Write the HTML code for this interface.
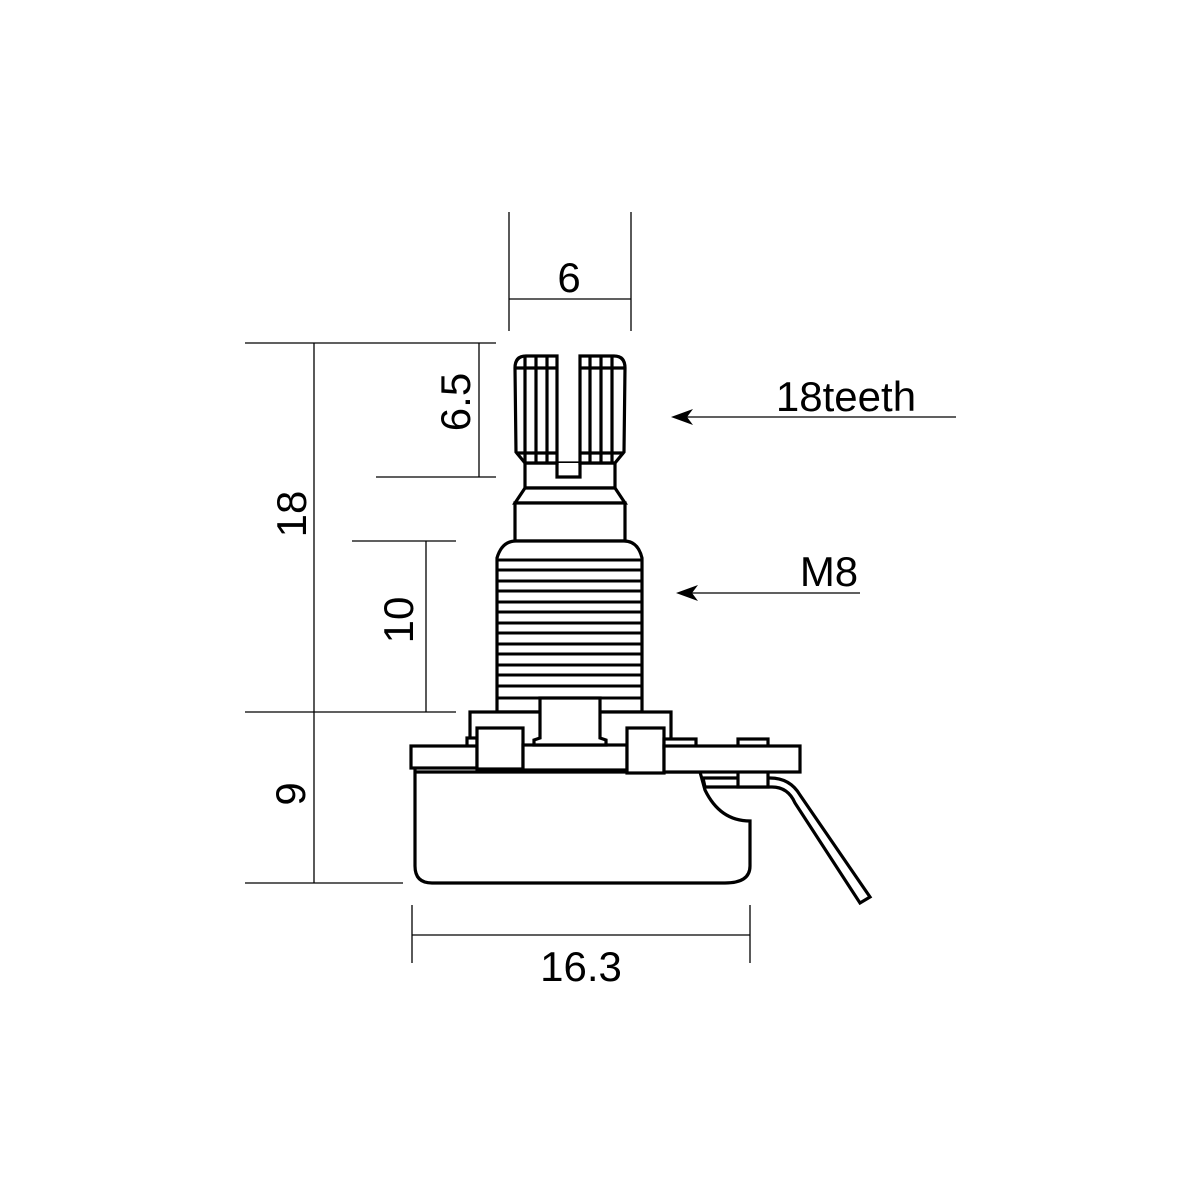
<!DOCTYPE html>
<html><head><meta charset="utf-8"><style>
html,body{margin:0;padding:0;background:#fff;}
svg{display:block}
text{font-family:"Liberation Sans","Noto Sans CJK JP",sans-serif;fill:#000;}
</style></head><body>
<svg width="1200" height="1200" viewBox="0 0 1200 1200" xmlns="http://www.w3.org/2000/svg">
<rect width="1200" height="1200" fill="#fff"/>
<g stroke="#000" stroke-width="1.3" fill="none">
  <line x1="509" y1="212" x2="509" y2="331"/>
  <line x1="631" y1="212" x2="631" y2="331"/>
  <line x1="509" y1="299" x2="631" y2="299"/>
  <line x1="245" y1="343" x2="496" y2="343"/>
  <line x1="314" y1="343" x2="314" y2="883"/>
  <line x1="479" y1="343" x2="479" y2="477"/>
  <line x1="376" y1="477" x2="496" y2="477"/>
  <line x1="352" y1="541" x2="456" y2="541"/>
  <line x1="426" y1="541" x2="426" y2="712"/>
  <line x1="245" y1="712" x2="456" y2="712"/>
  <line x1="245" y1="883" x2="403" y2="883"/>
  <line x1="412" y1="905" x2="412" y2="963"/>
  <line x1="750" y1="905" x2="750" y2="963"/>
  <line x1="412" y1="935" x2="750" y2="935"/>
  <line x1="682" y1="417" x2="956" y2="417"/>
  <line x1="686" y1="593" x2="860" y2="593"/>
</g>
<polygon points="671,417 693,409 687,417 693,425" fill="#000"/>
<polygon points="676,593 698,585 692,593 698,601" fill="#000"/>
<g font-size="42">
  <text x="569" y="292" text-anchor="middle">6</text>
  <text x="846" y="411" text-anchor="middle">18teeth</text>
  <text x="829" y="586" text-anchor="middle">M8</text>
  <text x="581" y="981" text-anchor="middle">16.3</text>
  <text transform="translate(470,402) rotate(-90)" text-anchor="middle">6.5</text>
  <text transform="translate(306,514) rotate(-90)" text-anchor="middle">18</text>
  <text transform="translate(413,620) rotate(-90)" text-anchor="middle">10</text>
  <text transform="translate(305,794) rotate(-90)" text-anchor="middle">9</text>
</g>
<g stroke="#000" stroke-width="3.2" fill="#fff" stroke-linejoin="miter">
  <path d="M525,463 L525,488 L615,488 L615,463 Z"/>
  <path d="M557,463 L557,477 L580,477 L580,463"/>
  <path d="M525,463 L516,452 L515,368 Q515,356 526,356 L557,356 L557,463 Z"/>
  <path d="M615,463 L624,452 L625,368 Q625,356 614,356 L580,356 L580,463 Z"/>
  <line x1="516" y1="368" x2="557" y2="368"/>
  <line x1="516" y1="453" x2="557" y2="453"/>
  <line x1="580" y1="368" x2="624" y2="368"/>
  <line x1="580" y1="453" x2="624" y2="453"/>
  <line x1="525" y1="356" x2="525" y2="463"/>
  <line x1="536" y1="356" x2="536" y2="463"/>
  <line x1="547" y1="356" x2="547" y2="463"/>
  <line x1="590" y1="356" x2="590" y2="463"/>
  <line x1="601" y1="356" x2="601" y2="463"/>
  <line x1="612" y1="356" x2="612" y2="463"/>
  <path d="M525,488 L515,503 L625,503 L615,488 Z"/>
  <rect x="515" y="503" width="110" height="38"/>
  <path d="M497,712 L497,558 Q502,541 516,541 L624,541 Q638,541 642,558 L642,712 Z"/>
</g>
<g stroke="#000" stroke-width="3">
  <line x1="497" y1="560" x2="642" y2="560"/>
  <line x1="497" y1="570" x2="642" y2="570"/>
  <line x1="497" y1="581" x2="642" y2="581"/>
  <line x1="497" y1="591" x2="642" y2="591"/>
  <line x1="497" y1="602" x2="642" y2="602"/>
  <line x1="497" y1="612" x2="642" y2="612"/>
  <line x1="497" y1="623" x2="642" y2="623"/>
  <line x1="497" y1="633" x2="642" y2="633"/>
  <line x1="497" y1="644" x2="642" y2="644"/>
  <line x1="497" y1="654" x2="642" y2="654"/>
  <line x1="497" y1="665" x2="642" y2="665"/>
  <line x1="497" y1="675" x2="642" y2="675"/>
  <line x1="497" y1="686" x2="642" y2="686"/>
  <line x1="497" y1="698" x2="642" y2="698"/>
</g>
<g stroke="#000" stroke-width="3.2" fill="#fff">
  <path d="M415,768 L415,866 Q415,883 432,883 L725,883 Q750,883 750,866 L750,821 Q720,821 705,790 L700,772 L415,772 Z"/>
  <path d="M703,778 L770,778 Q790,778 800,795 L870,897 L860,903 L795,803 Q788,787 772,787 L705,787 Z"/>
  <rect x="738" y="770" width="30" height="17"/>
  <rect x="470" y="712" width="201" height="40"/>
  <rect x="467" y="738" width="10" height="10"/>
  <rect x="411" y="746" width="66" height="22"/>
  <rect x="477" y="728" width="46" height="41"/>
  <rect x="523" y="745" width="104" height="25"/>
  <rect x="627" y="728" width="37" height="45"/>
  <rect x="664" y="739" width="32" height="9"/>
  <rect x="738" y="739" width="30" height="9"/>
  <rect x="664" y="746" width="136" height="26"/>
  <path d="M540,698 L540,738 L534,740 L534,745 L606,745 L606,740 L600,738 L600,698 Z"/>
</g>
</svg>
</body></html>
